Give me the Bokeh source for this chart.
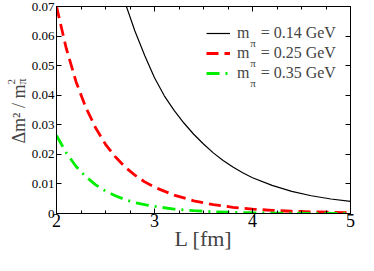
import math
from bokeh.plotting import figure
from bokeh.layouts import row
from bokeh.models import Range1d, FixedTicker, LinearAxis, Label, Legend, LegendItem
from bokeh.embed import file_html
from bokeh.resources import INLINE

# ---- data ----
L_grid = [2.0, 2.1, 2.2, 2.3, 2.4, 2.5, 2.6, 2.7, 2.8, 2.9, 3.0,
          3.2, 3.4, 3.6, 3.8, 4.0, 4.2, 4.4, 4.6, 4.8, 5.0]
ratio_025 = [0.0700, 0.0558, 0.0445, 0.0358, 0.0289, 0.0234, 0.0192, 0.0157, 0.0130, 0.0107, 0.0089,
             0.0062, 0.0043, 0.0030, 0.0021, 0.0015, 0.00106, 0.00076, 0.00055, 0.00040, 0.00029]
ratio_035 = [0.0264, 0.0205, 0.0159, 0.0124, 0.0097, 0.0076, 0.0060, 0.0047, 0.0037, 0.0030, 0.0024,
             0.0015, 0.00094, 0.00060, 0.00039, 0.00025, 0.00016, 0.00011, 0.00007, 0.000045, 0.00003]
L_black = [2.6, 2.7, 2.8, 2.9, 3.0, 3.1, 3.2, 3.3, 3.4, 3.5, 3.6, 3.7, 3.8, 3.9,
           4.0, 4.2, 4.4, 4.6, 4.8, 5.0]
ratio_014 = [0.0829, 0.0713, 0.0617, 0.0534, 0.0459, 0.0398, 0.0349, 0.0306, 0.0268, 0.0235,
             0.0205, 0.0179, 0.0157, 0.0138, 0.0121, 0.0095, 0.0075, 0.0060, 0.0049, 0.0041]

mass_labels = ["0.14", "0.25", "0.35"]
x_ticks = [2, 3, 4, 5]
x_tick_labels = ["2", "3", "4", "5"]
x_minor = [2.25, 2.5, 2.75, 3.25, 3.5, 3.75, 4.25, 4.5, 4.75]
y_ticks = [0, 0.01, 0.02, 0.03, 0.04, 0.05, 0.06, 0.07]
y_tick_labels = ["0", "0.01", "0.02", "0.03", "0.04", "0.05", "0.06", "0.07"]

FONT = "Liberation Serif"
FW, FH = 294, 207          # frame size of the main plot
TOP = 6
WL = 28                    # width of the strip holding the y title

# ---------------- main plot ----------------
p = figure(frame_width=FW, frame_height=FH, output_backend="svg", toolbar_location=None,
           x_range=Range1d(2, 5), y_range=Range1d(0, 0.07),
           min_border_left=0, min_border_right=6, min_border_top=TOP, min_border_bottom=0)
p.xgrid.visible = False
p.ygrid.visible = False
p.outline_line_color = "black"
p.outline_line_width = 1

xt = FixedTicker(ticks=x_ticks, minor_ticks=x_minor)
yt = FixedTicker(ticks=y_ticks, minor_ticks=[])

def style(ax, ticker, labels, size):
    ax.ticker = ticker
    ax.axis_line_color = "black"
    ax.major_tick_in = 5
    ax.major_tick_out = 0
    ax.minor_tick_in = 3
    ax.minor_tick_out = 0
    ax.major_tick_line_color = "black"
    ax.minor_tick_line_color = "black"
    ax.major_label_text_font = FONT
    ax.major_label_text_font_size = size
    ax.major_label_text_color = "black"
    ax.major_label_overrides = labels
    ax.major_label_standoff = 0

xa = p.xaxis[0]
style(xa, xt, dict(zip(x_ticks, x_tick_labels)), "18px")
xa.axis_label = "L [fm]"
xa.axis_label_text_font = FONT
xa.axis_label_text_font_size = "22px"
xa.axis_label_text_font_style = "normal"
xa.axis_label_standoff = -4

ya = p.yaxis[0]
style(ya, yt, dict(zip(y_ticks, y_tick_labels)), "13px")
ya.major_label_standoff = 2
ya.minor_tick_line_color = None

top = LinearAxis()
style(top, xt, {t: "" for t in x_ticks}, "0px")
p.add_layout(top, "above")
right = LinearAxis()
style(right, yt, {t: "" for t in y_ticks}, "0px")
right.minor_tick_line_color = None
p.add_layout(right, "right")

r1 = p.line(L_black, ratio_014, line_color="black", line_width=1.2)
r2 = p.line(L_grid, ratio_025, line_color="#ff0000", line_width=2.8, line_dash="12 6")
r3 = p.line(L_grid, ratio_035, line_color="#00ee00", line_width=2.8, line_dash="13 6 2 6")

sp = "\u2002\u2009"
items = [LegendItem(label="m" + sp + "= " + m + " GeV", renderers=[r])
         for m, r in zip(mass_labels, [r1, r2, r3])]
ROW, GAP = 18, 2
LX = 150
LEG_TOP = 18
LY = FH - LEG_TOP - (3 * ROW + 2 * GAP)
leg = Legend(items=items, location=(LX, LY), border_line_color=None, background_fill_alpha=0,
             label_text_font=FONT, label_text_font_size="16px", glyph_width=24, glyph_height=ROW,
             label_height=ROW, spacing=GAP, padding=0, margin=0, label_standoff=7)
p.add_layout(leg)

for i in range(3):
    c = LEG_TOP + ROW / 2 + (ROW + GAP) * i
    p.add_layout(Label(x=LX + 24 + 7 + 12.7, y=FH - c - 9, x_units="screen", y_units="screen",
                       text="\u03c0", text_font=FONT, text_font_size="11px", text_baseline="alphabetic"))

# ---------------- left strip: y title  Δm² / m_π² ----------------
pl = figure(width=WL, height=255, output_backend="svg", toolbar_location=None,
            x_range=Range1d(0, 1), y_range=p.y_range,
            x_axis_type=None, y_axis_type=None, min_border=0)
pl.outline_line_color = None

y_start = 72
pl.add_layout(Label(x=18, y=y_start, x_units="screen", y_units="screen", angle=math.pi / 2,
                    text="\u0394m\u00b2 / m", text_font=FONT, text_font_size="18px",
                    text_baseline="alphabetic", text_align="left"))
pl.add_layout(Label(x=21.5, y=y_start + 59, x_units="screen", y_units="screen", angle=math.pi / 2,
                    text="\u03c0", text_font=FONT, text_font_size="12px",
                    text_baseline="alphabetic", text_align="left"))
pl.add_layout(Label(x=10.5, y=y_start + 59, x_units="screen", y_units="screen", angle=math.pi / 2,
                    text="2", text_font=FONT, text_font_size="11px",
                    text_baseline="alphabetic", text_align="left"))

layout = row(pl, p)
open("out.html", "w").write(file_html(layout, INLINE))
